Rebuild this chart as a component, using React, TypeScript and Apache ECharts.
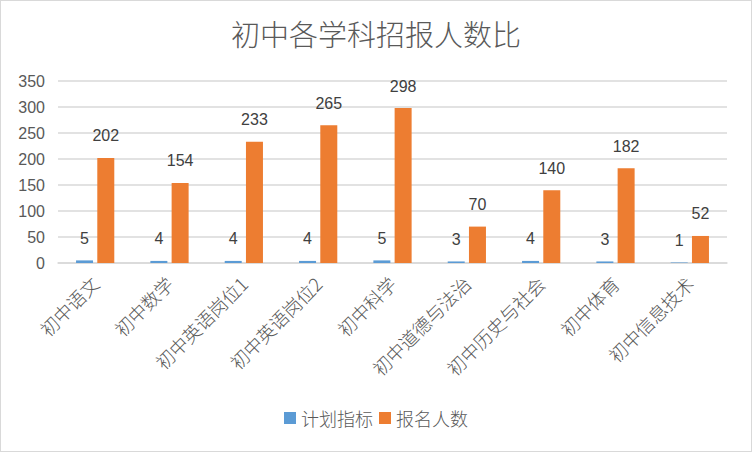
import React, { useEffect, useRef } from "react";
import * as echarts from "echarts";

const categories = [
  "初中语文",
  "初中数学",
  "初中英语岗位1",
  "初中英语岗位2",
  "初中科学",
  "初中道德与法治",
  "初中历史与社会",
  "初中体育",
  "初中信息技术",
];
const planned = [5, 4, 4, 4, 5, 3, 4, 3, 1];
const applicants = [202, 154, 233, 265, 298, 70, 140, 182, 52];
const seriesNames = ["计划指标", "报名人数"];
const title = "初中各学科招报人数比";

const CJK = "'Noto Sans CJK SC', 'Noto Sans', sans-serif";
const NUM = "'Liberation Sans', 'Noto Sans', sans-serif";

export default function App() {
  const ref = useRef<HTMLDivElement>(null);
  useEffect(() => {
    if (!ref.current) return;
    const chart = echarts.init(ref.current, null, { renderer: "svg" });
    const label = {
      show: true,
      position: "top" as const,
      distance: 14,
      color: "#404040",
      fontSize: 16,
      fontFamily: NUM,
    };
    chart.setOption({
      animation: false,
      backgroundColor: "#ffffff",
      title: {
        text: title,
        left: "center",
        top: 12,
        textStyle: {
          fontFamily: CJK,
          fontSize: 29,
          fontWeight: 300,
          color: "#595959",
        },
      },
      legend: {
        bottom: 19,
        left: "center",
        itemWidth: 12,
        itemHeight: 12,
        itemGap: 6,
        icon: "rect",
        textStyle: { fontFamily: CJK, fontSize: 18, color: "#595959", fontWeight: 300 },
        data: seriesNames,
      },
      grid: { left: 57, right: 24, top: 80, bottom: 188, containLabel: false },
      xAxis: {
        type: "category",
        data: categories,
        axisLine: { lineStyle: { color: "#d9d9d9", width: 1.5 } },
        axisTick: { show: false },
        axisLabel: {
          rotate: 45,
          interval: 0,
          margin: 17,
          fontFamily: CJK,
          fontSize: 18.5,
          fontWeight: 300,
          color: "#595959",
        },
      },
      yAxis: {
        type: "value",
        min: 0,
        max: 350,
        interval: 50,
        axisLine: { show: false },
        axisTick: { show: false },
        splitLine: { lineStyle: { color: "#d9d9d9", width: 1.5 } },
        axisLabel: {
          margin: 13,
          fontFamily: NUM,
          fontSize: 16,
          color: "#595959",
        },
      },
      series: [
        {
          name: seriesNames[0],
          type: "bar",
          data: planned,
          barWidth: 17,
          barGap: "25%",
          itemStyle: { color: "#5B9BD5" },
          label,
        },
        {
          name: seriesNames[1],
          type: "bar",
          data: applicants,
          barWidth: 17,
          barGap: "25%",
          itemStyle: { color: "#ED7D31" },
          label,
        },
      ],
    });
    return () => chart.dispose();
  }, []);
  return (
    <div
      style={{
        position: "fixed",
        left: 0,
        top: 0,
        width: 752,
        height: 452,
        boxSizing: "border-box",
        border: "1px solid #d9d9d9",
        background: "#fff",
      }}
    >
      <div ref={ref} style={{ width: 750, height: 450 }} />
    </div>
  );
}
